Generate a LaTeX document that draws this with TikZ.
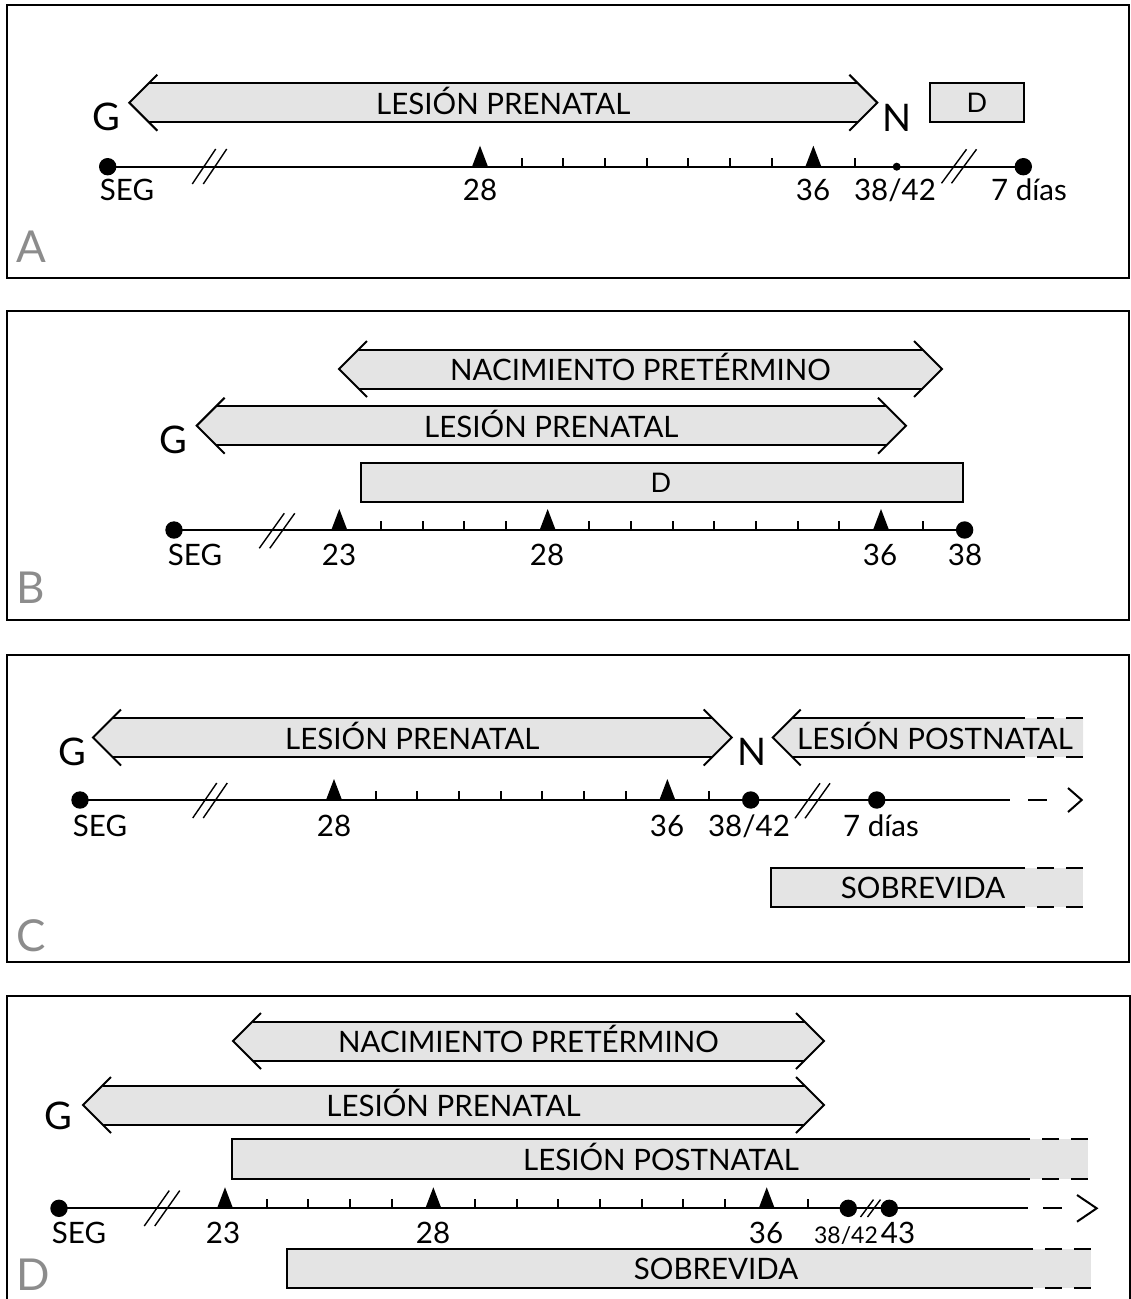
\documentclass[tikz,border=0pt]{standalone}
\usepackage{fontspec}
\setmainfont{Lato}
\definecolor{bandgray}{HTML}{E4E4E4}
\definecolor{lettergray}{HTML}{8C8C8C}
\tikzset{
  ln/.style={line width=2pt},
  thinln/.style={line width=1.4pt},
  bandtext/.style={inner sep=0pt, anchor=base, font=\fontsize{29.5}{29.5}\selectfont},
  lbl/.style={inner sep=0pt, anchor=base, font=\fontsize{29.5}{29.5}\selectfont},
  bigl/.style={inner sep=0pt, anchor=base, font=\fontsize{38}{38}\selectfont},
  panel/.style={inner sep=0pt, anchor=base west, text=lettergray, font=\fontsize{44}{44}\selectfont},
}
% band with chevrons on both ends: name, x1, x2, y, text
\newcommand\BandBoth[5]{%
  \fill[bandgray] (#2,#4) -- ({#2+19.5},{#4-19.5}) -- ({#3-19.5},{#4-19.5}) -- (#3,#4) -- ({#3-19.5},{#4+19.5}) -- ({#2+19.5},{#4+19.5}) -- cycle;
  \draw[ln] ({#2+19.5},{#4-19.5}) -- ({#3-19.5},{#4-19.5}) ({#2+19.5},{#4+19.5}) -- ({#3-19.5},{#4+19.5});
  \draw[ln] ({#2+28},{#4-28}) -- (#2,#4) -- ({#2+28},{#4+28});
  \draw[ln] ({#3-28},{#4-28}) -- (#3,#4) -- ({#3-28},{#4+28});
  \node[bandtext] (#1) at ({(#2+#3)/2},{#4+11.5}) {#5};}
% band with left chevron and dashed right end: name, x1, xs, y, text x, text
\newcommand\BandLeftDash[6]{%
  \fill[bandgray] (#2,#4) -- ({#2+19.5},{#4-19.5}) -- ({#3+58},{#4-19.5}) -- ({#3+58},{#4+19.5}) -- ({#2+19.5},{#4+19.5}) -- cycle;
  \draw[ln] ({#2+19.5},{#4-19.5}) -- (#3,{#4-19.5}) ({#2+19.5},{#4+19.5}) -- (#3,{#4+19.5});
  \draw[ln, dash pattern=on 17pt off 12pt] ({#3+12},{#4-19.5}) -- ({#3+58},{#4-19.5}) ({#3+12},{#4+19.5}) -- ({#3+58},{#4+19.5});
  \draw[ln] ({#2+28},{#4-28}) -- (#2,#4) -- ({#2+28},{#4+28});
  \node[bandtext] (#1) at (#5,{#4+11.5}) {#6};}
% box with dashed right end: name, x1, xs, ytop, ybot, text x, text
\newcommand\BoxDash[7]{%
  \fill[bandgray] (#2,#4) rectangle ({#3+58},#5);
  \draw[ln] (#3,#4) -- (#2,#4) -- (#2,#5) -- (#3,#5);
  \draw[ln, dash pattern=on 17pt off 12pt] ({#3+12},#4) -- ({#3+58},#4) ({#3+12},#5) -- ({#3+58},#5);
  \node[bandtext] (#1) at (#6,{(#4+#5)/2+11}) {#7};}
% break mark: x, y, half dx, half dy, separation
\newcommand\Brk[5]{%
  \draw[thinln] ({#1-#5/2-#3},{#2+#4}) -- ({#1-#5/2+#3},{#2-#4});
  \draw[thinln] ({#1+#5/2-#3},{#2+#4}) -- ({#1+#5/2+#3},{#2-#4});}
\newcommand\Tick[2]{\draw[ln] ({#1},{#2}) -- ({#1},{#2-9});}
\newcommand\Tri[2]{\fill ({#1-8},{#2}) -- ({#1},{#2-21}) -- ({#1+8},{#2}) -- cycle;}
\begin{document}
\begin{tikzpicture}[x=1pt,y=-1pt]
\useasboundingbox (0,0) rectangle (1131,1299);
% ---------- frames
\draw[ln] (7,5) rectangle (1129,278);
\draw[ln] (7,311) rectangle (1129,620);
\draw[ln] (7,655) rectangle (1129,962);
\draw[ln] (1129.5,1300) -- (1129.5,996) -- (7,996) -- (7,1300);
% ================= PANEL A
\node[panel] (pA) at (16,262) {A};
\BandBoth{aPre}{129.3}{877.3}{102.7}{LESIÓN PRENATAL}
\node[bigl] (aG) at (106,130.5) {G};
\node[bigl] (aN) at (897,131) {N};
\filldraw[fill=bandgray, ln] (930,82.7) rectangle (1024,121.7);
\node[bandtext, font=\fontsize{27}{27}\selectfont] (aD) at (977,112) {D};
\coordinate (aS) at (107.7,166.7);
\coordinate (aE) at (1023.3,166.7);
\draw[ln] (aS) -- (aE);
\fill (aS) circle (8.7);
\fill (aE) circle (8.7);
\fill (896.7,166.7) circle (4);
\Brk{209.5}{166.5}{11.7}{17.5}{11}
\Brk{959}{166.3}{12.5}{17}{10}
\foreach \w in {28,36} {\Tri{480+(\w-28)*41.67}{166.7}}
\foreach \w in {29,...,35,37} {\Tick{480+(\w-28)*41.67}{166.7}}
\node[lbl] (aSEG) at (127,200) {SEG};
\node[lbl] (a28) at (480,200) {28};
\node[lbl] (a36) at (813,200) {36};
\node[lbl] (a38) at (895,200) {38/42};
\node[lbl] (a7) at (1029,200) {7 días};
% ================= PANEL B
\node[panel] (pB) at (16,603) {B};
\BandBoth{bNac}{339}{942}{369}{NACIMIENTO PRETÉRMINO}
\BandBoth{bPre}{196.7}{906}{425.7}{LESIÓN PRENATAL}
\node[bigl] (bG) at (173.7,453) {G};
\filldraw[fill=bandgray, ln] (360.7,463.3) rectangle (963,501.7);
\node[bandtext, font=\fontsize{27}{27}\selectfont] (bD) at (661,492) {D};
\coordinate (bS) at (174,530);
\coordinate (bE) at (964.6,530);
\draw[ln] (bS) -- (bE);
\fill (bS) circle (8.7);
\fill (bE) circle (8.7);
\Brk{277}{530.8}{12.5}{17.5}{10.5}
\foreach \w in {23,28,36} {\Tri{339.3+(\w-23)*41.67}{530}}
\foreach \w in {24,...,27,29,30,...,35,37} {\Tick{339.3+(\w-23)*41.67}{530}}
\node[lbl] (bSEG) at (195,565) {SEG};
\node[lbl] (b23) at (339,565) {23};
\node[lbl] (b28) at (547,565) {28};
\node[lbl] (b36) at (880,565) {36};
\node[lbl] (b38) at (965,565) {38};
% ================= PANEL C
\node[panel] (pC) at (16,951) {C};
\BandBoth{cPre}{93}{731.7}{737.5}{LESIÓN PRENATAL}
\BandLeftDash{cPost}{772.7}{1025}{737.5}{935}{LESIÓN POSTNATAL}
\node[bigl] (cG) at (72,765) {G};
\node[bigl] (cN) at (752,765) {N};
\coordinate (cS) at (80,800);
\coordinate (cE) at (1010,800);
\coordinate (cTip) at (1081.7,800);
\draw[ln] (cS) -- (cE);
\draw[ln] (1028,800) -- (1047,800);
\draw[ln] (1068,788) -- (cTip) -- (1068,812);
\fill (cS) circle (8.7);
\fill (750.7,800) circle (8.7);
\fill (876.7,800) circle (8.7);
\Brk{210}{800.5}{12}{17.5}{10.5}
\Brk{812.5}{800.8}{12.5}{17.5}{10}
\foreach \w in {28,36} {\Tri{334+(\w-28)*41.67}{800}}
\foreach \w in {29,...,35,37} {\Tick{334+(\w-28)*41.67}{800}}
\node[lbl] (cSEG) at (100,836.5) {SEG};
\node[lbl] (c28) at (334,836.5) {28};
\node[lbl] (c36) at (667,836.5) {36};
\node[lbl] (c38) at (749,836.5) {38/42};
\node[lbl] (c7) at (881,836.5) {7 días};
\BoxDash{cSob}{770.7}{1025}{868.3}{907.3}{923}{SOBREVIDA}
% ================= PANEL D
\node[panel] (pD) at (16,1290) {D};
\BandBoth{dNac}{233}{824}{1041}{NACIMIENTO PRETÉRMINO}
\BandBoth{dPre}{83}{824}{1105}{LESIÓN PRENATAL}
\node[bigl] (dG) at (58,1129) {G};
\BoxDash{dPost}{232}{1030}{1139.3}{1179.3}{661}{LESIÓN POSTNATAL}
\coordinate (dS) at (59,1208.3);
\coordinate (dE) at (1028,1208.3);
\coordinate (dTip) at (1096.7,1208.3);
\draw[ln] (dS) -- (dE);
\draw[ln] (1043,1208.3) -- (1062,1208.3);
\draw[ln] (1077,1195) -- (dTip) -- (1077,1221.7);
\fill (dS) circle (8.7);
\fill (848.3,1208.3) circle (8.7);
\fill (889.3,1208.3) circle (8.7);
\Brk{162}{1208.3}{12.5}{17.7}{10.5}
\Brk{870.5}{1208.3}{6.5}{8.7}{7}
\foreach \w in {23,28,36} {\Tri{225+(\w-23)*41.67}{1208.3}}
\foreach \w in {24,...,27,29,30,...,35,37} {\Tick{225+(\w-23)*41.67}{1208.3}}
\node[lbl] (dSEG) at (79,1243) {SEG};
\node[lbl] (d23) at (223,1243) {23};
\node[lbl] (d28) at (433,1243) {28};
\node[lbl] (d36) at (766,1243) {36};
\node[lbl, font=\fontsize{23}{23}\selectfont] (d38) at (846,1243) {38/42};
\node[lbl] (d43) at (898,1243) {43};
\BoxDash{dSob}{286.7}{1033}{1249}{1287.7}{716}{SOBREVIDA}
\end{tikzpicture}
\end{document}
